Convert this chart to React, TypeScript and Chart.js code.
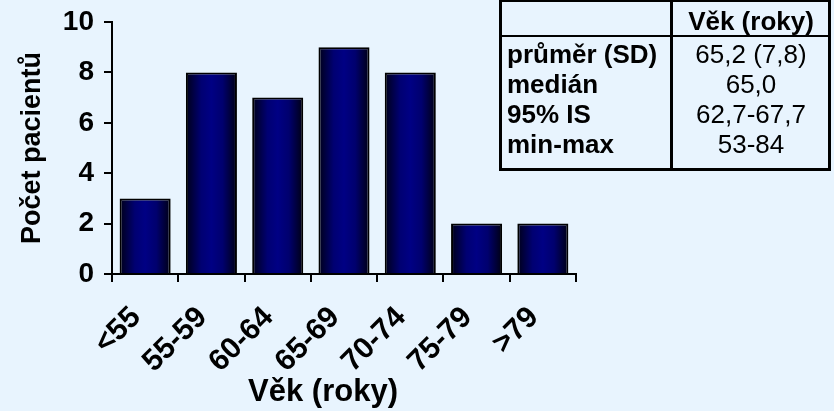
import React, { useEffect, useRef } from "react";
import { Chart, registerables } from "chart.js";

Chart.register(...registerables);

// ---- data ----
const categories = ["<55", "55-59", "60-64", "65-69", "70-74", "75-79", ">79"];
const patientCounts = [3, 8, 7, 9, 8, 2, 2];
const yTickValues = [0, 2, 4, 6, 8, 10];
const xAxisTitle = "Věk (roky)";
const yAxisTitle = "Počet pacientů";
const tableHeader = ["", "Věk (roky)"];
const statLabels = ["průměr (SD)", "medián", "95% IS", "min-max"];
const statValues = ["65,2 (7,8)", "65,0", "62,7-67,7", "53-84"];

// ---- style ----
const FONT = '"Liberation Sans", Arial, Helvetica, sans-serif';
const BG = "#E8F4FE";
const BAR_PCT = 0.77;

const xTitlePlugin = {
  id: "xTitleOffset",
  afterDraw(chart: any) {
    const { ctx, chartArea } = chart;
    ctx.save();
    ctx.font = `bold 31px ${FONT}`;
    ctx.fillStyle = "#000";
    ctx.textAlign = "center";
    ctx.textBaseline = "alphabetic";
    ctx.fillText(xAxisTitle, (chartArea.left + chartArea.right) / 2 - 21, chart.height - 10);
    ctx.restore();
  },
};

function barGradient(c: any) {
  const chart = c.chart;
  const xs = chart.scales?.x;
  if (!xs || !chart.chartArea || c.dataIndex === undefined) return "#000080";
  const cx = xs.getPixelForValue(c.dataIndex);
  const w = (xs.width / categories.length) * BAR_PCT;
  const g = chart.ctx.createLinearGradient(cx - w / 2, 0, cx + w / 2, 0);
  g.addColorStop(0, "#000018");
  g.addColorStop(0.3, "#000072");
  g.addColorStop(0.5, "#000084");
  g.addColorStop(0.72, "#00006E");
  g.addColorStop(1, "#000012");
  return g;
}

export default function App() {
  const canvasRef = useRef<HTMLCanvasElement | null>(null);

  useEffect(() => {
    if (!canvasRef.current) return;
    const chart = new Chart(canvasRef.current, {
      type: "bar",
      data: {
        labels: categories,
        datasets: [
          {
            data: patientCounts,
            backgroundColor: barGradient as any,
            borderColor: "#000",
            borderWidth: 2,
            borderSkipped: "start",
            categoryPercentage: 1,
            barPercentage: BAR_PCT,
          },
        ],
      },
      options: {
        animation: false,
        responsive: true,
        maintainAspectRatio: false,
        layout: { padding: { left: 0, top: 22, right: 258, bottom: 0 } },
        plugins: { legend: { display: false }, tooltip: { enabled: false } },
        scales: {
          x: {
            grid: {
              display: true,
              drawOnChartArea: false,
              drawTicks: true,
              tickLength: 8,
              color: "#000",
              lineWidth: 2,
              offset: true,
            },
            border: { display: true, color: "#000", width: 2 },
            ticks: {
              font: { family: FONT, size: 30, weight: "bold" },
              color: "#000",
              minRotation: 45,
              maxRotation: 45,
              padding: 18,
              labelOffset: -9,
              autoSkip: false,
            },
            afterFit: (s: any) => {
              s.height = 137;
              s.paddingLeft = 0;
              s.paddingRight = 0;
            },
          },
          y: {
            min: 0,
            max: 10,
            afterBuildTicks: (s: any) => {
              s.ticks = yTickValues.map((v) => ({ value: v }));
            },
            grid: {
              display: true,
              drawOnChartArea: false,
              drawTicks: true,
              tickLength: 8,
              color: "#000",
              lineWidth: 2,
            },
            border: { display: true, color: "#000", width: 2 },
            ticks: {
              font: { family: FONT, size: 28, weight: "bold" },
              color: "#000",
              padding: 10,
            },
            title: {
              display: true,
              text: yAxisTitle,
              color: "#000",
              font: { family: FONT, size: 27, weight: "bold" },
              padding: { top: 16, bottom: 0 },
            },
            afterFit: (s: any) => {
              s.width = 112;
              s.paddingTop = 0;
              s.paddingBottom = 0;
            },
          },
        },
      },
      plugins: [xTitlePlugin],
    });
    return () => chart.destroy();
  }, []);

  const cellFont = { fontFamily: FONT, fontSize: 26, lineHeight: "30px", color: "#000" } as const;
  const rightColLeft = 672;
  const rightColWidth = 158;

  return (
    <div
      style={{
        position: "fixed",
        left: 0,
        top: 0,
        width: 834,
        height: 411,
        background: BG,
        overflow: "hidden",
      }}
    >
      <div style={{ position: "absolute", left: 0, top: 0, width: 834, height: 411 }}>
        <canvas ref={canvasRef} />
      </div>
      <div
        style={{
          position: "absolute",
          left: 499,
          top: -1,
          width: 332,
          height: 172,
          border: "3px solid #000",
          boxSizing: "border-box",
        }}
      />
      <div style={{ position: "absolute", left: 670, top: 0, width: 3, height: 171, background: "#000" }} />
      <div style={{ position: "absolute", left: 499, top: 35, width: 332, height: 2, background: "#000" }} />
      <div
        style={{
          ...cellFont,
          position: "absolute",
          left: 507,
          top: 6,
          fontWeight: "bold",
        }}
      >
        {tableHeader[0]}
      </div>
      <div
        style={{
          ...cellFont,
          position: "absolute",
          left: rightColLeft,
          width: rightColWidth,
          top: 6,
          textAlign: "center",
          fontWeight: "bold",
        }}
      >
        {tableHeader[1]}
      </div>
      {statLabels.map((lab, i) => (
        <div
          key={"l" + i}
          style={{
            ...cellFont,
            position: "absolute",
            left: 507,
            top: 39 + i * 30,
            fontWeight: "bold",
            whiteSpace: "nowrap",
          }}
        >
          {lab}
        </div>
      ))}
      {statValues.map((val, i) => (
        <div
          key={"v" + i}
          style={{
            ...cellFont,
            position: "absolute",
            left: rightColLeft,
            width: rightColWidth,
            top: 39 + i * 30,
            textAlign: "center",
            whiteSpace: "nowrap",
          }}
        >
          {val}
        </div>
      ))}
    </div>
  );
}
